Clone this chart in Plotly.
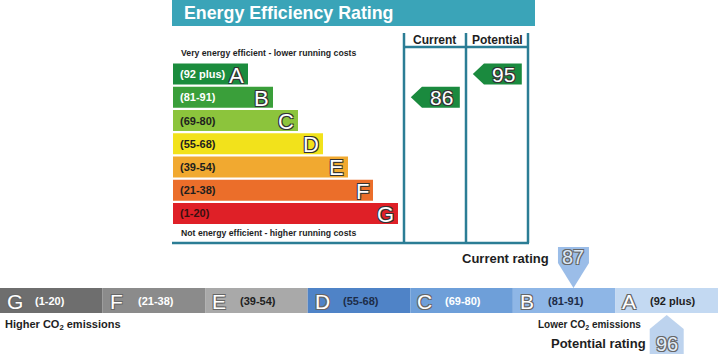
import plotly.graph_objects as go

# ---------------- data ----------------
bands = ["A", "B", "C", "D", "E", "F", "G"]
band_ranges = ["(92 plus)", "(81-91)", "(69-80)", "(55-68)", "(39-54)", "(21-38)", "(1-20)"]
band_lo = [92, 81, 69, 55, 39, 21, 1]
band_hi = [100, 91, 80, 68, 54, 38, 20]
bar_length = [3, 4, 5, 6, 7, 8, 9]
current_eer = 86
potential_eer = 95
current_co2 = 87
potential_co2 = 96

# ---------------- styles ----------------
W, H = 718, 354
FONT = "Liberation Sans, Arial, sans-serif"
DARK = "#1e1e1e"
FRAME = "#2b7d95"
TEAL = "#3aa4b8"
eer_colors = ["#1b8c3d", "#3a9f3a", "#8cc43c", "#f2e21b", "#f1a930", "#eb6e2a", "#df2027"]
eer_text = ["white", "white", DARK, DARK, DARK, DARK, "#3a1010"]
co2_colors = ["#c3d9f2", "#8eb6e6", "#6e9fd9", "#4f83c7", "#a9a9a9", "#8b8b8b", "#6e6e6e"]
co2_text = [DARK, "#1d2c48", "white", "#1d2c48", DARK, "white", "white"]
ARROW_GREEN = "#1a8a3e"
OUTLINE = "-1px -1px 0 #333, 1px -1px 0 #333, -1px 1px 0 #333, 1px 1px 0 #333"
OUTLINE_L = "-1px -1px 0 #666, 1px -1px 0 #666, -1px 1px 0 #666, 1px 1px 0 #666"


def px(x):
    return x / W


def py(y):
    return 1 - y / H


def band_of(v):
    for i, (lo, hi) in enumerate(zip(band_lo, band_hi)):
        if lo <= v <= hi:
            return i
    return 0


fig = go.Figure()

# ---- top EER bars ----
fig.add_trace(go.Bar(
    orientation="h", y=list(range(len(bands))), x=bar_length, base=0,
    marker=dict(color=eer_colors, line=dict(width=0)), width=0.9,
    xaxis="x", yaxis="y", hoverinfo="skip", showlegend=False))

ann = []
for i, b in enumerate(bands):
    ann.append(dict(xref="x", yref="y", x=0, y=i, text="<b>%s</b>" % band_ranges[i],
                    xanchor="left", yanchor="middle", xshift=5, showarrow=False,
                    font=dict(family=FONT, size=11, color=eer_text[i])))
    ann.append(dict(xref="x", yref="y", x=bar_length[i], y=i, text=b,
                    xanchor="right", yanchor="middle", xshift=-2, yshift=-1, showarrow=False,
                    font=dict(family=FONT, size=22, color="white", shadow=OUTLINE)))

# ---- current / potential arrows ----
for col, val in enumerate([current_eer, potential_eer]):
    b = band_of(val)
    xs = [col + 0.11, col + 0.29, col + 0.9, col + 0.9, col + 0.29, col + 0.11]
    ys = [b, b - 0.45, b - 0.45, b + 0.45, b + 0.45, b]
    fig.add_trace(go.Scatter(x=xs, y=ys, fill="toself", fillcolor=ARROW_GREEN,
                             line=dict(width=0), mode="lines", xaxis="x3", yaxis="y",
                             hoverinfo="skip", showlegend=False))
    ann.append(dict(xref="x3", yref="y", x=col + 0.6, y=b, text=str(val),
                    xanchor="center", yanchor="middle", showarrow=False,
                    font=dict(family=FONT, size=21, color="white", shadow=OUTLINE)))

# ---- bottom CO2 band (G..A left to right) ----
order = list(range(len(bands)))[::-1]
fig.add_trace(go.Bar(
    orientation="h", y=[0] * len(order), x=[1] * len(order), base=list(range(len(order))),
    marker=dict(color=[co2_colors[i] for i in order], line=dict(width=0)), width=1,
    xaxis="x4", yaxis="y4", hoverinfo="skip", showlegend=False))
for k, i in enumerate(order):
    ann.append(dict(xref="x4", yref="y4", x=k, y=0, text=bands[i], xanchor="left",
                    yanchor="middle", xshift=5, yshift=-1, showarrow=False,
                    font=dict(family=FONT, size=21, color="white", shadow=OUTLINE_L)))
    ann.append(dict(xref="x4", yref="y4", x=k, y=0, text="<b>%s</b>" % band_ranges[i],
                    xanchor="left", yanchor="middle", xshift=33, showarrow=False,
                    font=dict(family=FONT, size=11, color=co2_text[i])))


def co2_pos(v):
    i = band_of(v)
    k = order.index(i)
    return k + (v - band_lo[i] + 0.5) / (band_hi[i] - band_lo[i] + 1)


unit = W / 7.0
# current marker (above the band, pointing down)
pc = co2_pos(current_co2)
hw = 15.5 / unit
fig.add_trace(go.Scatter(x=[pc - hw, pc + hw, pc + hw, pc, pc - hw, pc - hw],
                         y=[247, 247, 263, 288, 263, 247], fill="toself", fillcolor="#9bbde8",
                         line=dict(width=0), mode="lines", xaxis="x4", yaxis="y5",
                         hoverinfo="skip", showlegend=False))
ann.append(dict(xref="x4", yref="y5", x=pc, y=257, text=str(current_co2), showarrow=False,
                xanchor="center", yanchor="middle",
                font=dict(family=FONT, size=20, color="#dbe8f7", shadow=OUTLINE_L)))
ann.append(dict(xref="x4", yref="y5", x=pc - hw, y=258, text="<b>Current rating</b>",
                xanchor="right", yanchor="middle", xshift=-7, showarrow=False,
                font=dict(family=FONT, size=13, color=DARK)))
# potential marker (below the band, pointing up)
pp = co2_pos(potential_co2)
hw2 = 17 / unit
fig.add_trace(go.Scatter(x=[pp, pp + hw2, pp + hw2, pp - hw2, pp - hw2, pp],
                         y=[315, 329, 356, 356, 329, 315], fill="toself", fillcolor="#bdd3ee",
                         line=dict(width=0), mode="lines", xaxis="x4", yaxis="y5",
                         hoverinfo="skip", showlegend=False))
ann.append(dict(xref="x4", yref="y5", x=pp, y=344, text=str(potential_co2), showarrow=False,
                xanchor="center", yanchor="middle",
                font=dict(family=FONT, size=20, color="#e3edf9", shadow=OUTLINE_L)))
ann.append(dict(xref="x4", yref="y5", x=pp - hw2, y=343, text="<b>Potential rating</b>",
                xanchor="right", yanchor="middle", xshift=-2, showarrow=False,
                font=dict(family=FONT, size=13, color=DARK)))

# ---- static texts ----
ann += [
    dict(xref="paper", yref="paper", x=px(182), y=py(13), text="<b>Energy Efficiency Rating</b>",
         xanchor="left", yanchor="middle", showarrow=False,
         font=dict(family=FONT, size=17.8, color="white")),
    dict(xref="paper", yref="paper", x=px(435), y=py(40), text="<b>Current</b>",
         xanchor="center", yanchor="middle", showarrow=False,
         font=dict(family=FONT, size=12, color=DARK)),
    dict(xref="paper", yref="paper", x=px(497), y=py(40), text="<b>Potential</b>",
         xanchor="center", yanchor="middle", showarrow=False,
         font=dict(family=FONT, size=12, color=DARK)),
    dict(xref="paper", yref="paper", x=px(179), y=py(53),
         text="<b>Very energy efficient - lower running costs</b>",
         xanchor="left", yanchor="middle", showarrow=False,
         font=dict(family=FONT, size=8.7, color=DARK)),
    dict(xref="paper", yref="paper", x=px(179), y=py(233),
         text="<b>Not energy efficient - higher running costs</b>",
         xanchor="left", yanchor="middle", showarrow=False,
         font=dict(family=FONT, size=8.7, color=DARK)),
    dict(xref="paper", yref="paper", x=px(3), y=py(325),
         text="<b>Higher CO<sub>2</sub> emissions</b>",
         xanchor="left", yanchor="middle", showarrow=False,
         font=dict(family=FONT, size=11, color=DARK)),
    dict(xref="paper", yref="paper", x=px(643), y=py(325),
         text="<b>Lower CO<sub>2</sub> emissions</b>",
         xanchor="right", yanchor="middle", showarrow=False,
         font=dict(family=FONT, size=10, color=DARK)),
]

# ---- frame shapes ----
shapes = [
    dict(type="rect", xref="paper", yref="paper", x0=px(172), x1=px(535), y0=py(0), y1=py(26),
         fillcolor=TEAL, line=dict(width=0), layer="below"),
]
for xv in (404, 466, 528):
    shapes.append(dict(type="line", xref="paper", yref="paper", x0=px(xv), x1=px(xv),
                       y0=py(33), y1=py(243), line=dict(color=FRAME, width=2.5)))
shapes.append(dict(type="line", xref="paper", yref="paper", x0=px(404), x1=px(528),
                   y0=py(47), y1=py(47), line=dict(color=FRAME, width=2.5)))
shapes.append(dict(type="line", xref="paper", yref="paper", x0=px(172), x1=px(529),
                   y0=py(243), y1=py(243), line=dict(color=FRAME, width=2.5)))

hidden = dict(visible=False, fixedrange=True, showgrid=False, zeroline=False)
fig.update_layout(
    width=W, height=H, margin=dict(l=0, r=0, t=0, b=0),
    paper_bgcolor="white", plot_bgcolor="rgba(0,0,0,0)",
    showlegend=False, barmode="overlay",
    xaxis=dict(domain=[px(173), px(528)], range=[0, 14.2], anchor="y", **hidden),
    yaxis=dict(domain=[py(225.1), py(62.4)], range=[6.5, -0.5], anchor="x", **hidden),
    xaxis3=dict(domain=[px(404), px(528)], range=[0, 2], anchor="y", **hidden),
    xaxis4=dict(domain=[0, 1], range=[0, 7], anchor="y4", **hidden),
    yaxis4=dict(domain=[py(313), py(288)], range=[-0.5, 0.5], anchor="x4", **hidden),
    yaxis5=dict(domain=[0, 1], range=[H, 0], anchor="x4", **hidden),
    annotations=ann, shapes=shapes,
)

fig.write_html("out.html")
